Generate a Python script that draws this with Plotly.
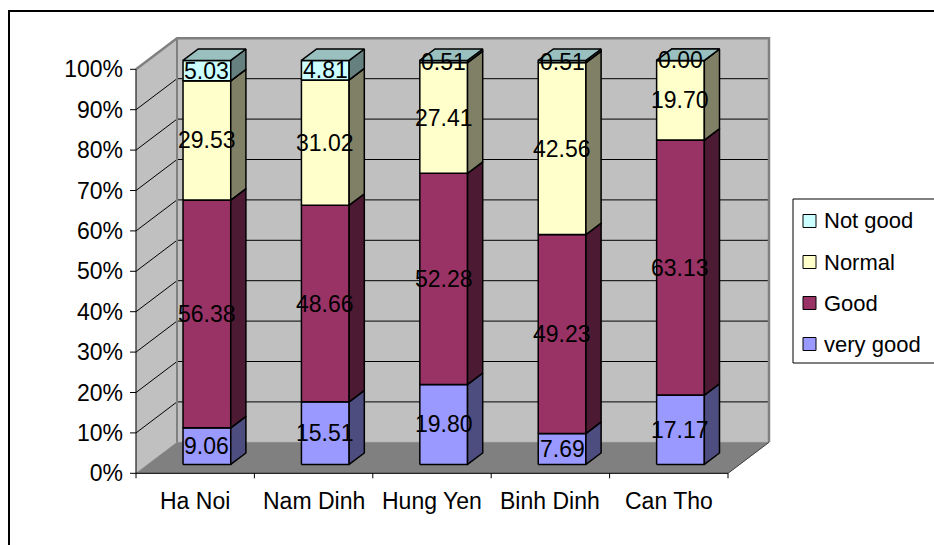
import plotly.graph_objects as go

# ---- data -------------------------------------------------------------
categories = ["Ha Noi", "Nam Dinh", "Hung Yen", "Binh Dinh", "Can Tho"]
series_names = ["very good", "Good", "Normal", "Not good"]
very_good = [9.06, 15.51, 19.80, 7.69, 17.17]
good = [56.38, 48.66, 52.28, 49.23, 63.13]
normal = [29.53, 31.02, 27.41, 42.56, 19.70]
not_good = [5.03, 4.81, 0.51, 0.51, 0.00]
y_ticks = [0, 10, 20, 30, 40, 50, 60, 70, 80, 90, 100]
y_tick_labels = [f"{t}%" for t in y_ticks]

series_values = [very_good, good, normal, not_good]
# face colours: front, side, top
series_colors = [
    ("#9999FF", "#4D4D80", "#7373BF"),
    ("#993366", "#4D1A33", "#73264D"),
    ("#FFFFCC", "#808066", "#BFBF99"),
    ("#CCFFFF", "#668080", "#99BFBF"),
]

# ---- geometry of the 3-D box (pixel scale of the category / percent axes)
W, H = 934, 545
PLOT_L, PLOT_R, PLOT_T, PLOT_B = 128, 780, 30, 485
CAT_PX = 118.4          # pixels per category
PCT_PX = 4.04           # pixels per percent
AXIS_X0_PX = 136        # front value axis
ZERO_Y_PX = 473.3       # front 0 % line
DEPTH_DX = 41 / CAT_PX  # depth vector in axis units
DEPTH_DY = 31 / PCT_PX
BAR_W = 0.403
BAR_D0, BAR_D1 = 0.285, 0.655
FONT_SIZE = 23

x_lo = -0.5 - (AXIS_X0_PX - PLOT_L) / CAT_PX
x_hi = x_lo + (PLOT_R - PLOT_L) / CAT_PX
y_lo = -(PLOT_B - ZERO_Y_PX) / PCT_PX
y_hi = y_lo + (PLOT_B - PLOT_T) / PCT_PX
n = len(categories)
U0, U1 = -0.5, n - 0.5


def proj(u, v, d):
    return u + d * DEPTH_DX, v + d * DEPTH_DY


def paper_x(px):
    return (px - PLOT_L) / (PLOT_R - PLOT_L)


def paper_y(py):
    return (PLOT_B - py) / (PLOT_B - PLOT_T)


fig = go.Figure()


def poly(pts, fill, line="black", width=1.0):
    xs, ys = zip(*[proj(*p) for p in pts])
    fig.add_trace(go.Scatter(
        x=list(xs) + [xs[0]], y=list(ys) + [ys[0]], mode="lines",
        fill="toself", fillcolor=fill,
        line=dict(color=line, width=width),
        hoverinfo="skip", showlegend=False))


def seg(pts, color, width=1.0):
    xs, ys = zip(*[proj(*p) for p in pts])
    fig.add_trace(go.Scatter(
        x=list(xs), y=list(ys), mode="lines",
        line=dict(color=color, width=width),
        hoverinfo="skip", showlegend=False))


# walls and floor
poly([(U0, 0, 0), (U0, 100, 0), (U0, 100, 1), (U0, 0, 1)], "#C0C0C0", "#C0C0C0", 0.5)
poly([(U0, 0, 1), (U1, 0, 1), (U1, 100, 1), (U0, 100, 1)], "#C0C0C0", "#C0C0C0", 0.5)
poly([(U0, 0, 0), (U1, 0, 0), (U1, 0, 1), (U0, 0, 1)], "#808080", "#808080", 0.5)

# gridlines on side and back walls
for t in y_ticks[1:-1]:
    seg([(U0, t, 0), (U0, t, 1), (U1, t, 1)], "black", 1)

# wall borders
seg([(U0, 100, 0), (U0, 100, 1), (U1, 100, 1), (U1, 0, 1)], "#808080", 2.5)
seg([(U0, 0, 1), (U0, 100, 1)], "#808080", 2)
seg([(U1, 0, 0), (U1, 0, 1)], "#404040", 1)

# stacked bars (100 % stacked)
annotations = []
for i in range(n):
    total = sum(vals[i] for vals in series_values)
    base = 0.0
    for vals, (front, side, top) in zip(series_values, series_colors):
        h = vals[i] / total * 100
        b, t = base, base + h
        l, r = i - BAR_W / 2, i + BAR_W / 2
        poly([(l, b, BAR_D0), (r, b, BAR_D0), (r, t, BAR_D0), (l, t, BAR_D0)], front, "black", 1.5)
        poly([(r, b, BAR_D0), (r, b, BAR_D1), (r, t, BAR_D1), (r, t, BAR_D0)], side, "black", 1.5)
        poly([(l, t, BAR_D0), (r, t, BAR_D0), (r, t, BAR_D1), (l, t, BAR_D1)], top, "black", 1.5)
        lx, ly = proj(i, (b + t) / 2, BAR_D0)
        annotations.append(dict(
            x=lx, y=ly, xref="x", yref="y", text=f"{vals[i]:.2f}",
            xanchor="center", yanchor="middle",
            showarrow=False, font=dict(size=FONT_SIZE, color="black")))
        base = t

# front axes with tick marks
seg([(U0, 0, 0), (U0, 100, 0)], "black", 1)
seg([(U0, 0, 0), (U1, 0, 0)], "black", 1)
tick_len_u = 6 / CAT_PX
for t in y_ticks:
    seg([(U0 - tick_len_u, t, 0), (U0, t, 0)], "black", 1)
tick_len_v = 5 / PCT_PX
for k in range(n + 1):
    seg([(U0 + k, 0, 0), (U0 + k, -tick_len_v, 0)], "black", 1)

# category labels
for i, name in enumerate(categories):
    annotations.append(dict(
        x=i, y=paper_y(501), xref="x", yref="paper", text=name,
        xanchor="center", yanchor="middle",
        showarrow=False, font=dict(size=FONT_SIZE, color="black")))

# legend
shapes = [
    dict(type="rect", xref="paper", yref="paper",
         x0=paper_x(9), y0=paper_y(11), x1=paper_x(960), y1=paper_y(570),
         line=dict(color="black", width=2), fillcolor="rgba(0,0,0,0)"),
    dict(type="rect", xref="paper", yref="paper",
         x0=paper_x(793), y0=paper_y(199), x1=paper_x(960), y1=paper_y(363),
         line=dict(color="black", width=1), fillcolor="white"),
]
legend_rows = [221, 262, 303, 344]
for row_y, name, (front, _, _) in zip(legend_rows, series_names[::-1], series_colors[::-1]):
    shapes.append(dict(
        type="rect", xref="paper", yref="paper",
        x0=paper_x(803), x1=paper_x(816), y0=paper_y(row_y + 6.5), y1=paper_y(row_y - 6.5),
        line=dict(color="black", width=1), fillcolor=front))
    annotations.append(dict(
        x=paper_x(822), y=paper_y(row_y), xref="paper", yref="paper",
        text=name, showarrow=False, xanchor="left", yanchor="middle",
        font=dict(size=22, color="black")))

fig.update_layout(
    width=W, height=H, autosize=False,
    margin=dict(l=PLOT_L, r=W - PLOT_R, t=PLOT_T, b=H - PLOT_B, pad=0),
    paper_bgcolor="white", plot_bgcolor="white",
    font=dict(family="Liberation Sans, Arial, sans-serif", color="black"),
    showlegend=False,
    xaxis=dict(range=[x_lo, x_hi], visible=False, fixedrange=True),
    yaxis=dict(range=[y_lo, y_hi], tickvals=y_ticks, ticktext=y_tick_labels,
               ticks="", showgrid=False, zeroline=False, showline=False,
               tickfont=dict(size=FONT_SIZE, color="black"), ticklabelstandoff=4,
               fixedrange=True),
    shapes=shapes,
    annotations=annotations,
)

fig.write_html("out.html")
